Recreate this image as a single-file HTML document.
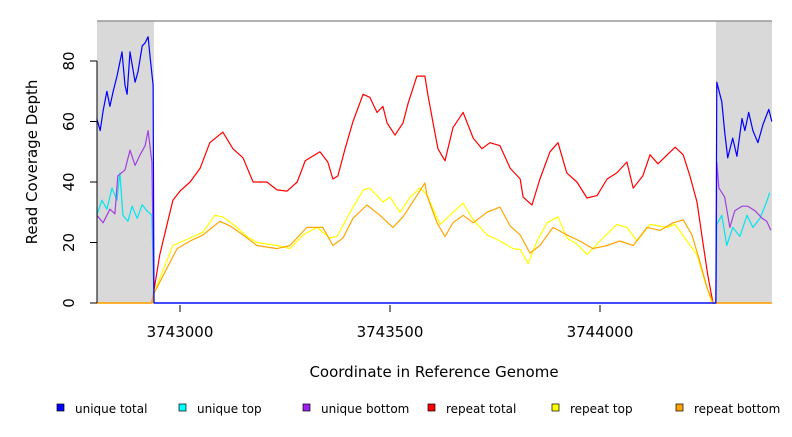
<!DOCTYPE html>
<html><head><meta charset="utf-8"><style>
body{margin:0;background:#fff;}
svg text{font-family:"DejaVu Sans","Liberation Sans",sans-serif;}
</style></head><body>
<svg id="chart" width="792" height="432" viewBox="0 0 792 432" xmlns="http://www.w3.org/2000/svg">
<g id="bg"></g><g id="series"></g><g id="axes"></g><g id="legend"></g>
</svg>
<script>
const BASE = 3743000;
const xTicks = [3743000, 3743500, 3744000];
const yTicks = [0, 20, 40, 60, 80];
const regionStart = -62, regionEnd = 1276;

const redPos = [-198,-67,-48,-17,0,24,48,71,102,126,150,174,207,231,255,279,298,333,352,364,376,393,412,436,452,469,483,493,512,531,543,564,583,590,602,614,631,650,674,698,719,738,762,786,810,817,838,857,881,900,921,945,969,993,1017,1040,1064,1079,1102,1119,1138,1160,1179,1198,1214,1231,1245,1257,1269,1409];
const redVal = [0,0,16,34,37,40,44.6,53,56.5,51,48,40,40,37.4,37,40,47,50,46.6,41,42,51,60,69,68,63,65,59.5,55.5,59.5,66,75,75,69,60,51,47,58,63,54.5,51,53,52,44.6,41,35,32.4,41,50,53,43,40,34.7,35.5,41,43,46.6,38,42,49,46,49,51.5,49,42,33.4,20,9,0,0];

const yelPos = [-198,-66,-64,-17,24,55,83,102,136,159,183,231,262,293,326,357,374,405,436,452,483,500,524,548,571,590,595,619,650,674,698,731,762,793,810,829,850,874,900,921,945,969,1000,1040,1064,1088,1119,1160,1179,1207,1231,1250,1267,1409];
const yelVal = [0,0,2.6,19,21.5,23.5,29,28.5,25,22,20,19,18,22.5,25,21.5,22,30,37.4,38,33.4,35,30,35,38,35.5,33.4,26,30,33,27.5,22.5,20.5,18,17.7,13,20.5,26.5,28.5,21.5,19.5,16,20.5,26,25,20.5,26,25,26,20.5,16,7,0,0];

const oraPos = [-198,-66,-64,-7,24,55,95,119,150,183,231,262,302,340,364,388,412,445,476,507,531,564,583,588,612,631,650,674,698,731,762,786,810,833,857,888,921,952,983,1017,1047,1079,1112,1143,1174,1198,1219,1238,1255,1269,1409];
const oraVal = [0,0,2.6,18,20.5,22.5,27,25.5,22.5,19,18,19,25,25,19,21.5,28,32.4,29,25,28.5,35.5,39.7,35.5,26.5,22,26.5,29,26.5,30,31.7,25.5,22.5,16.5,19,25,22.5,20.5,18,19,20.5,19,25,24,26.5,27.5,22.5,13.5,5,0,0];

const cyanPos = [-198,-186,-174,-162,-150,-143,-136,-124,-114,-102,-90,-79,-67,-62,1276,1278,1290,1302,1316,1333,1350,1364,1381,1397,1404];
const cyanVal = [29,34,31,38,34,43,29,27,32,28,32.5,30.5,29,0,0,26,29,19,25,22,29,25,28,33.5,36.5];

const purPos = [-198,-183,-167,-155,-148,-131,-119,-107,-95,-83,-76,-67,-62,1276,1278,1283,1297,1309,1321,1338,1352,1369,1386,1397,1407];
const purVal = [29,26.5,31,29.5,42,44,50.5,45.5,49,52,57,46.5,0,0,46.5,38,35,25,30.5,32,32,30.5,28,27,24];

const bluePos = [-198,-190,-183,-174,-167,-159,-150,-138,-131,-126,-119,-107,-100,-90,-83,-76,-71,-64,-62,1276,1278,1290,1297,1304,1316,1326,1338,1345,1354,1364,1376,1388,1402,1409];
const blueVal = [61,57,63.5,70,65,70,75,83,72,69,83,73,76.5,85,86,88,81,72,0,0,73,66.5,56.5,48,54.5,48.5,61,57,63,57,53,59,64,60];

const X0=97, X1=772, Y0=303, Y1=21;
const sx = b => 180 + b*0.42;
const sxAbs = v => sx(v-BASE);
const sy = v => Y0 - v*3.025;
const NS="http://www.w3.org/2000/svg";
function mk(tag, attrs, parent){const e=document.createElementNS(NS,tag);for(const k in attrs)e.setAttribute(k,attrs[k]);parent.appendChild(e);return e;}

const bg=document.getElementById('bg');
let r=mk('rect',{x:X0,y:Y1,width:sx(regionStart)-X0,height:Y0-Y1,fill:'#d9d9d9'},bg);


r=mk('rect',{x:sx(regionEnd),y:Y1,width:X1-sx(regionEnd),height:Y0-Y1,fill:'#d9d9d9'},bg);


let tl=mk('line',{x1:X0,x2:X1,y1:Y1,y2:Y1,stroke:'#999','stroke-width':1.5},bg);



const sg=document.getElementById('series');
function draw(pos,val,color,name){
  const pts=pos.map((p,i)=>sx(p).toFixed(1)+','+sy(val[i]).toFixed(1)).join(' ');
  const pl=mk('polyline',{points:pts,fill:'none',stroke:color,'stroke-width':1.2,'stroke-linejoin':'round'},sg);
  
  
}
draw(redPos,redVal,'#ff0000','repeat-total-line');
draw(yelPos,yelVal,'#ffff00','repeat-top-line');
draw(oraPos,oraVal,'#ffa500','repeat-bottom-line');
draw(cyanPos,cyanVal,'#00e5ee','unique-top-line');
draw(purPos,purVal,'#a040e0','unique-bottom-line');
draw(bluePos,blueVal,'#0000ff','unique-total-line');

const ax=document.getElementById('axes');
let l=mk('line',{x1:X0,x2:X0,y1:sy(0),y2:sy(80),stroke:'#000'},ax);


yTicks.forEach(v=>{
  const t=mk('line',{x1:X0-7,x2:X0,y1:sy(v),y2:sy(v),stroke:'#000'},ax);
  
  
  const tx=mk('text',{x:74,y:sy(v),'font-size':15,'text-anchor':'middle',transform:`rotate(-90 74 ${sy(v)})`},ax);
  tx.textContent=v;
  
  
});
xTicks.forEach(v=>{
  const t=mk('line',{x1:sxAbs(v),x2:sxAbs(v),y1:Y0+2,y2:Y0+9,stroke:'#000'},ax);
  
  
  const tx=mk('text',{x:sxAbs(v),y:337,'font-size':15,'text-anchor':'middle'},ax);
  tx.textContent=v;
  
  
});
let tt=mk('text',{x:434,y:377,'font-size':15,'text-anchor':'middle'},ax);
tt.textContent='Coordinate in Reference Genome';


tt=mk('text',{x:37,y:162,'font-size':15,'text-anchor':'middle',transform:'rotate(-90 37 162)'},ax);
tt.textContent='Read Coverage Depth';



const legNames=['unique total','unique top','unique bottom','repeat total','repeat top','repeat bottom'];
const legColors=['#0000ff','#00ffff','#a020f0','#ff0000','#ffff00','#ffa500'];
const legX=[57,179,303,428,552,676];
const lg=document.getElementById('legend');
legNames.forEach((n,i)=>{
  const g=mk('g',{},lg);
  
  
  mk('rect',{x:legX[i],y:404,width:7,height:7,fill:legColors[i],stroke:'#000','stroke-width':0.7},g);
  const t=mk('text',{x:legX[i]+18,y:413,'font-size':12},g);
  t.textContent=n;
});
</script>
</body></html>
